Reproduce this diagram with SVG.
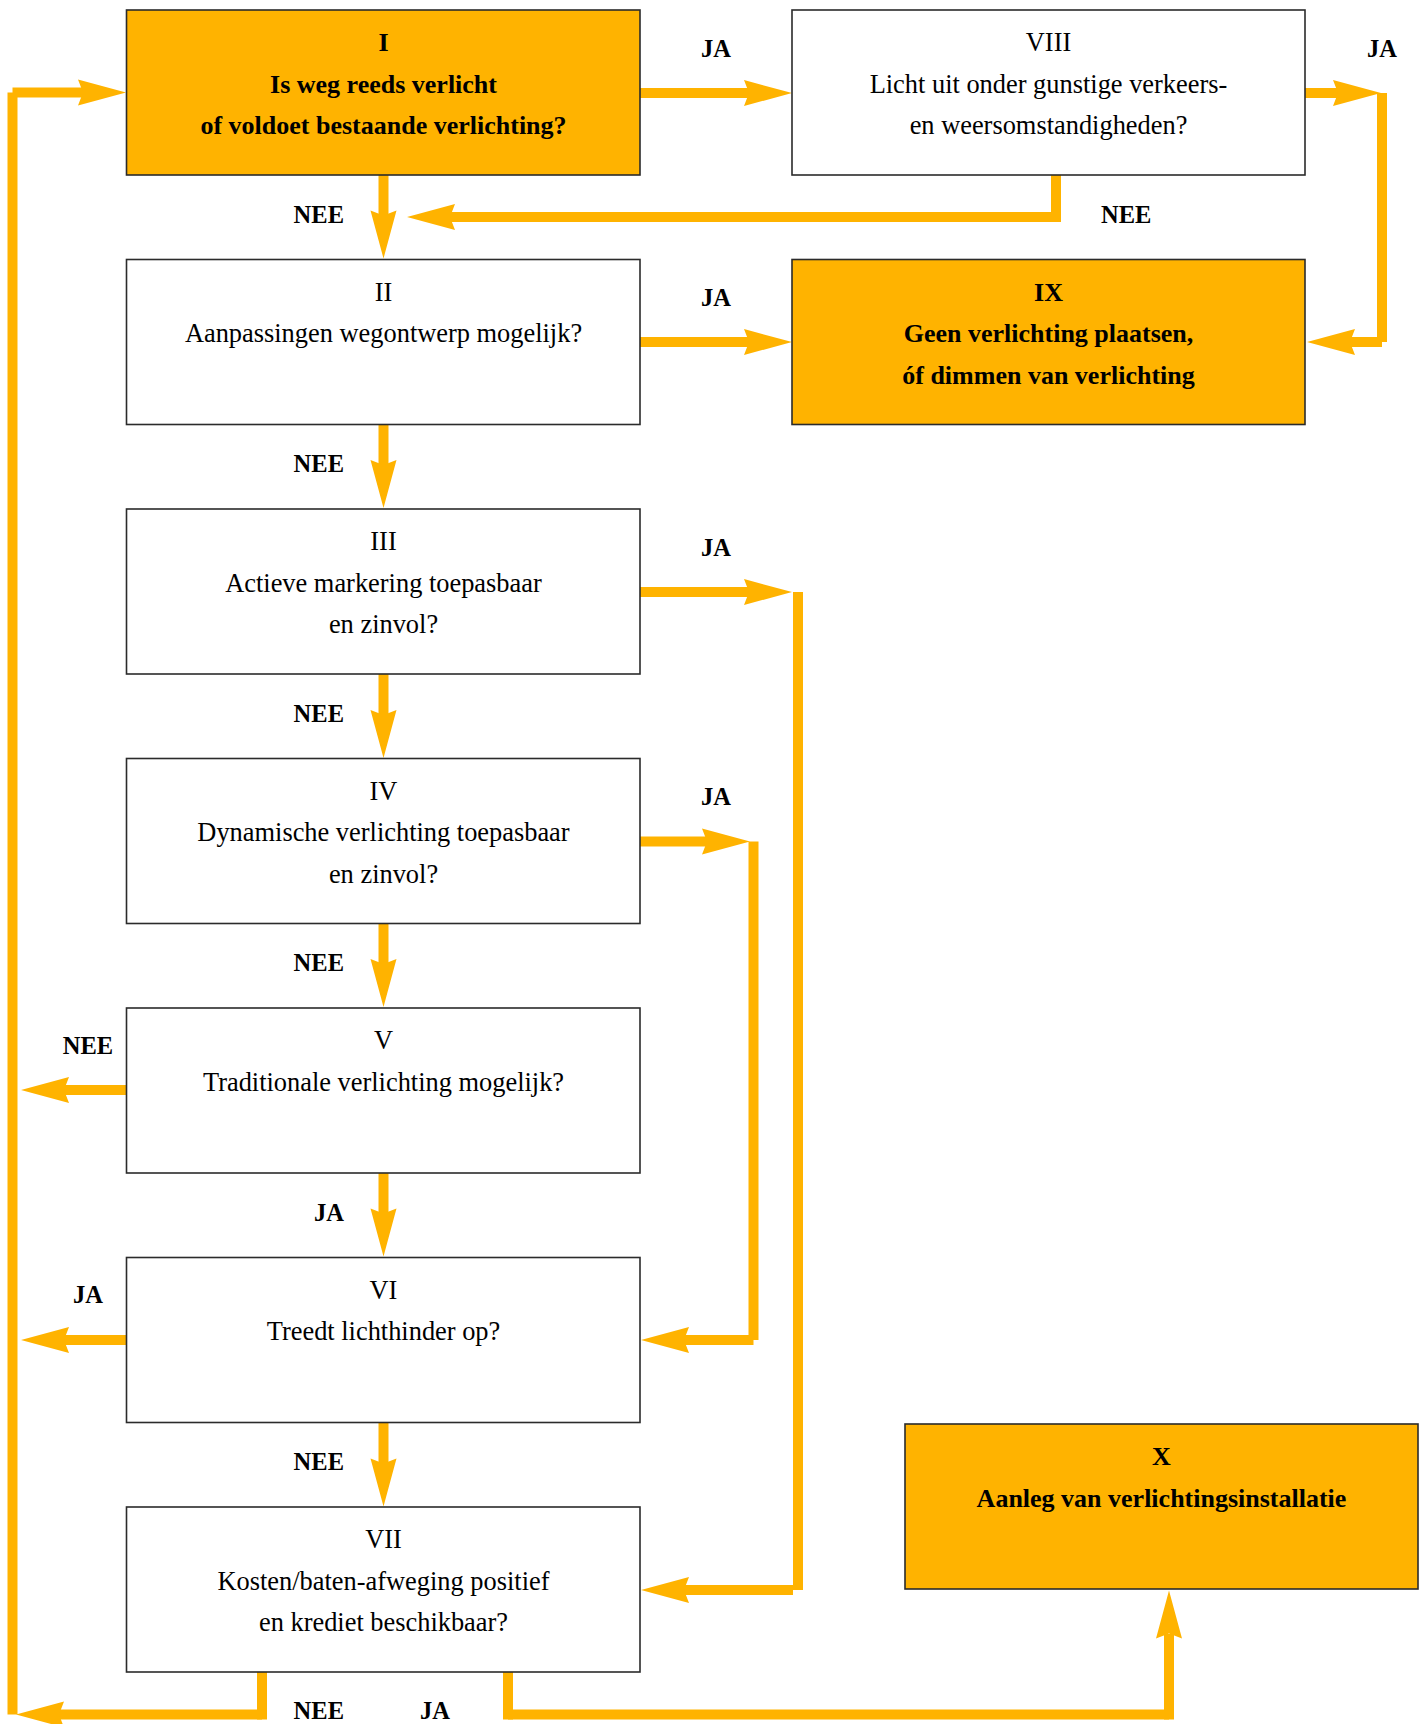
<svg xmlns="http://www.w3.org/2000/svg" xmlns:xlink="http://www.w3.org/1999/xlink" width="1428" height="1724" viewBox="0 0 1428 1724">
<style>
.box{stroke:#2b2b2b;stroke-width:1.6}
.w{fill:#ffffff}
.o{fill:#FFB300}
.t{font-family:"Liberation Serif","Times New Roman",serif;font-size:26.4px;text-anchor:middle;fill:#000}
.b{font-weight:bold;font-size:26px}
.lbl{font-family:"Liberation Serif","Times New Roman",serif;font-size:24.5px;font-weight:bold;fill:#000}
.ln{stroke:#FFB300;stroke-width:10;fill:none;stroke-linecap:butt}
.ah{fill:#FFB300}
</style>
<defs>
<path id="ah" class="ah" d="M0,0 L-48,-13 L-43,0 L-48,13 Z"/>
</defs>
<rect x="0" y="0" width="1428" height="1724" fill="#ffffff"/>

<g id="connectors">
<path class="ln" d="M640,93 H749"/>
<use xlink:href="#ah" href="#ah" transform="translate(792,93)"/>
<path class="ln" d="M1305,93 H1338"/>
<use xlink:href="#ah" href="#ah" transform="translate(1381,93)"/>
<path class="ln" d="M1382,93 V342"/>
<path class="ln" d="M1382,342 H1350"/>
<use xlink:href="#ah" href="#ah" transform="translate(1307,342) rotate(180)"/>
<path class="ln" d="M1056,175 V222"/>
<path class="ln" d="M1056,217 H450"/>
<use xlink:href="#ah" href="#ah" transform="translate(407,217) rotate(180)"/>
<path class="ln" d="M383.5,175 V216"/>
<use xlink:href="#ah" href="#ah" transform="translate(383.5,258.5) rotate(90)"/>
<path class="ln" d="M640,342 H749"/>
<use xlink:href="#ah" href="#ah" transform="translate(792,342)"/>
<path class="ln" d="M383.5,424.5 V465"/>
<use xlink:href="#ah" href="#ah" transform="translate(383.5,508) rotate(90)"/>
<path class="ln" d="M640,592 H749"/>
<use xlink:href="#ah" href="#ah" transform="translate(792,592)"/>
<path class="ln" d="M798,592 V1590"/>
<path class="ln" d="M793,1590 H684"/>
<use xlink:href="#ah" href="#ah" transform="translate(641,1590) rotate(180)"/>
<path class="ln" d="M383.5,674 V715"/>
<use xlink:href="#ah" href="#ah" transform="translate(383.5,758) rotate(90)"/>
<path class="ln" d="M640,841.5 H707"/>
<use xlink:href="#ah" href="#ah" transform="translate(750,841.5)"/>
<path class="ln" d="M753.5,841.5 V1340"/>
<path class="ln" d="M753.5,1340 H684"/>
<use xlink:href="#ah" href="#ah" transform="translate(641,1340) rotate(180)"/>
<path class="ln" d="M383.5,923.5 V964"/>
<use xlink:href="#ah" href="#ah" transform="translate(383.5,1007) rotate(90)"/>
<path class="ln" d="M126.5,1090 H64"/>
<use xlink:href="#ah" href="#ah" transform="translate(21,1090) rotate(180)"/>
<path class="ln" d="M383.5,1173 V1214"/>
<use xlink:href="#ah" href="#ah" transform="translate(383.5,1256.5) rotate(90)"/>
<path class="ln" d="M126.5,1340 H64"/>
<use xlink:href="#ah" href="#ah" transform="translate(21,1340) rotate(180)"/>
<path class="ln" d="M383.5,1422.5 V1464"/>
<use xlink:href="#ah" href="#ah" transform="translate(383.5,1506.5) rotate(90)"/>
<path class="ln" d="M262,1672 V1719.5"/>
<path class="ln" d="M262,1714.5 H59"/>
<path class="ln" d="M12.5,1714.5 V92.5"/>
<path class="ln" d="M12.5,92.5 H83"/>
<use xlink:href="#ah" href="#ah" transform="translate(126,92.5)"/>
<use xlink:href="#ah" href="#ah" transform="translate(16,1714.5) rotate(180)"/>
<path class="ln" d="M508,1672 V1719.5"/>
<path class="ln" d="M508,1714.5 H1169"/>
<path class="ln" d="M1169,1719.5 V1634"/>
<use xlink:href="#ah" href="#ah" transform="translate(1169,1590.5) rotate(-90)"/>
</g>

<g id="labels">
<text class="lbl" x="701" y="57">JA</text>
<text class="lbl" x="1367" y="57">JA</text>
<text class="lbl" x="1101" y="223">NEE</text>
<text class="lbl" x="344" y="223" text-anchor="end">NEE</text>
<text class="lbl" x="701" y="306">JA</text>
<text class="lbl" x="344" y="472" text-anchor="end">NEE</text>
<text class="lbl" x="701" y="556">JA</text>
<text class="lbl" x="344" y="721.5" text-anchor="end">NEE</text>
<text class="lbl" x="701" y="805">JA</text>
<text class="lbl" x="344" y="971" text-anchor="end">NEE</text>
<text class="lbl" x="88" y="1054" text-anchor="middle">NEE</text>
<text class="lbl" x="344" y="1220.5" text-anchor="end">JA</text>
<text class="lbl" x="88" y="1303" text-anchor="middle">JA</text>
<text class="lbl" x="344" y="1470" text-anchor="end">NEE</text>
<text class="lbl" x="344" y="1719" text-anchor="end">NEE</text>
<text class="lbl" x="420" y="1719">JA</text>
</g>

<g id="node-I">
<rect class="box o" x="126.5" y="10" width="513.5" height="165"/>
<text class="t b" x="383.5" y="51">I</text>
<text class="t b" x="383.5" y="92.5">Is weg reeds verlicht</text>
<text class="t b" x="383.5" y="134">of voldoet bestaande verlichting?</text>
</g>
<g id="node-II">
<rect class="box w" x="126.5" y="259.5" width="513.5" height="165"/>
<text class="t" x="383.5" y="300.5">II</text>
<text class="t" x="383.5" y="342">Aanpassingen wegontwerp mogelijk?</text>
</g>
<g id="node-III">
<rect class="box w" x="126.5" y="509" width="513.5" height="165"/>
<text class="t" x="383.5" y="550">III</text>
<text class="t" x="383.5" y="591.5">Actieve markering toepasbaar</text>
<text class="t" x="383.5" y="633">en zinvol?</text>
</g>
<g id="node-IV">
<rect class="box w" x="126.5" y="758.5" width="513.5" height="165"/>
<text class="t" x="383.5" y="799.5">IV</text>
<text class="t" x="383.5" y="841">Dynamische verlichting toepasbaar</text>
<text class="t" x="383.5" y="882.5">en zinvol?</text>
</g>
<g id="node-V">
<rect class="box w" x="126.5" y="1008" width="513.5" height="165"/>
<text class="t" x="383.5" y="1049">V</text>
<text class="t" x="383.5" y="1090.5">Traditionale verlichting mogelijk?</text>
</g>
<g id="node-VI">
<rect class="box w" x="126.5" y="1257.5" width="513.5" height="165"/>
<text class="t" x="383.5" y="1298.5">VI</text>
<text class="t" x="383.5" y="1340">Treedt lichthinder op?</text>
</g>
<g id="node-VII">
<rect class="box w" x="126.5" y="1507" width="513.5" height="165"/>
<text class="t" x="383.5" y="1548">VII</text>
<text class="t" x="383.5" y="1589.5">Kosten/baten-afweging positief</text>
<text class="t" x="383.5" y="1631">en krediet beschikbaar?</text>
</g>
<g id="node-VIII">
<rect class="box w" x="792" y="10" width="513" height="165"/>
<text class="t" x="1048.5" y="51">VIII</text>
<text class="t" x="1048.5" y="92.5">Licht uit onder gunstige verkeers-</text>
<text class="t" x="1048.5" y="134">en weersomstandigheden?</text>
</g>
<g id="node-IX">
<rect class="box o" x="792" y="259.5" width="513" height="165"/>
<text class="t b" x="1048.5" y="300.5">IX</text>
<text class="t b" x="1048.5" y="342">Geen verlichting plaatsen,</text>
<text class="t b" x="1048.5" y="383.5">óf dimmen van verlichting</text>
</g>
<g id="node-X">
<rect class="box o" x="905" y="1424" width="513" height="165"/>
<text class="t b" x="1161.5" y="1465">X</text>
<text class="t b" x="1161.5" y="1506.5">Aanleg van verlichtingsinstallatie</text>
</g>
</svg>
